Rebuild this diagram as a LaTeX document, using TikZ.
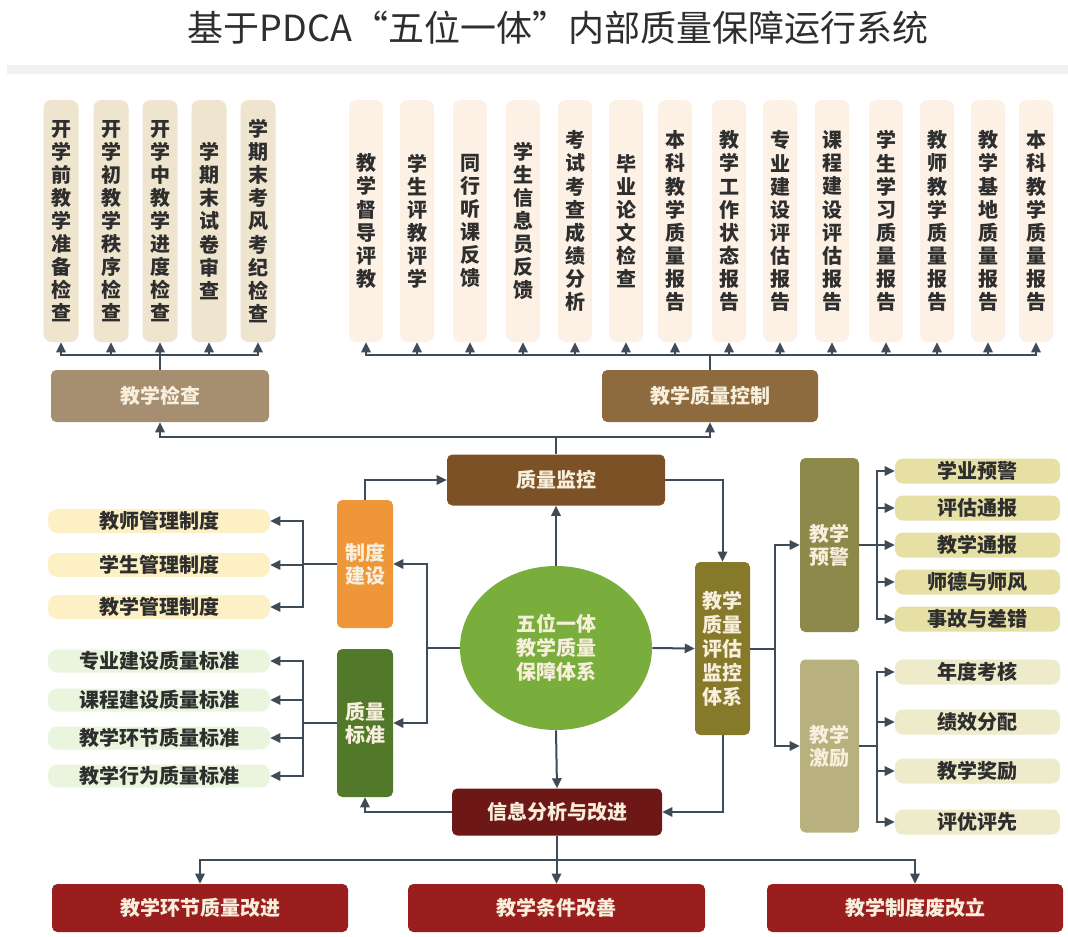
\documentclass[tikz,border=0pt]{standalone}
\usepackage{fontspec}
\setmainfont{Noto Sans CJK SC}
\usetikzlibrary{shapes.geometric,arrows.meta}
\definecolor{lineC}{HTML}{3F4B57}
\definecolor{colBeige}{HTML}{EFE5CF}
\definecolor{colCream}{HTML}{FCF1E4}
\definecolor{chkC}{HTML}{A58F70}
\definecolor{ctrlC}{HTML}{8E6A3F}
\definecolor{monC}{HTML}{7B5125}
\definecolor{zhiC}{HTML}{EF9639}
\definecolor{bzC}{HTML}{52782A}
\definecolor{cirC}{HTML}{7AAE3C}
\definecolor{evalC}{HTML}{86792A}
\definecolor{infoC}{HTML}{6E1717}
\definecolor{redC}{HTML}{9B1E1E}
\definecolor{yjC}{HTML}{8D894A}
\definecolor{jlC}{HTML}{B8B07E}
\definecolor{yjItem}{HTML}{E6E0A4}
\definecolor{jlItem}{HTML}{EEEBCB}
\definecolor{yelItem}{HTML}{FDF0C4}
\definecolor{grnItem}{HTML}{E9F5DC}
\definecolor{boxTxt}{HTML}{F7EEDC}
\definecolor{darkTxt}{HTML}{2E2E2E}
\definecolor{bandC}{HTML}{F1F1F1}
\begin{document}
\begin{tikzpicture}[x=0.75pt,y=-0.75pt,
  sz/.style 2 args={minimum width=#1*0.75pt, minimum height=#2*0.75pt},
  lbl/.style={font=\fontsize{15pt}{17.3pt}\selectfont\bfseries},
  base/.style={inner sep=0pt, align=center, lbl},
  colL/.style={base, rounded corners=6pt, fill=colBeige, text=darkTxt, sz={35}{242}},
  colR/.style={base, rounded corners=6pt, fill=colCream, text=darkTxt, sz={34}{242}},
  wbox/.style={base, rounded corners=4pt, text=boxTxt},
  itemL/.style={base, rounded corners=7pt, text=darkTxt, sz={222}{24}},
  itemR/.style={base, rounded corners=6pt, text=darkTxt, sz={165}{25}},
  conn/.style={draw=lineC, line width=1.5pt},
  arr/.style={conn, -{Triangle[length=7.5pt,width=7pt]}}]
\useasboundingbox (0,0) rectangle (1068,936);
\fill[white] (0,0) rectangle (1068,936);
\fill[bandC] (7,65) rectangle (1068,74);
\node[inner sep=0pt, text=darkTxt, font=\fontsize{27pt}{30pt}\selectfont] (title) at (558,28) {基于PDCA“五位一体”内部质量保障运行系统};

% top-left columns
\node[colL] (t1) at (61,221) {开\\学\\前\\教\\学\\准\\备\\检\\查};
\node[colL] (t2) at (111,221) {开\\学\\初\\教\\学\\秩\\序\\检\\查};
\node[colL] (t3) at (160,221) {开\\学\\中\\教\\学\\进\\度\\检\\查};
\node[colL] (t4) at (209,221) {学\\期\\末\\试\\卷\\审\\查};
\node[colL] (t5) at (258,221) {学\\期\\末\\考\\风\\考\\纪\\检\\查};

% top-right columns
\node[colR] (r1) at (366,221) {教\\学\\督\\导\\评\\教};
\node[colR] (r2) at (417,221) {学\\生\\评\\教\\评\\学};
\node[colR] (r3) at (470,221) {同\\行\\听\\课\\反\\馈};
\node[colR] (r4) at (523,221) {学\\生\\信\\息\\员\\反\\馈};
\node[colR] (r5) at (575,221) {考\\试\\考\\查\\成\\绩\\分\\析};
\node[colR] (r6) at (626,221) {毕\\业\\论\\文\\检\\查};
\node[colR] (r7) at (675,221) {本\\科\\教\\学\\质\\量\\报\\告};
\node[colR] (r8) at (729,221) {教\\学\\工\\作\\状\\态\\报\\告};
\node[colR] (r9) at (780,221) {专\\业\\建\\设\\评\\估\\报\\告};
\node[colR] (r10) at (832,221) {课\\程\\建\\设\\评\\估\\报\\告};
\node[colR] (r11) at (886,221) {学\\生\\学\\习\\质\\量\\报\\告};
\node[colR] (r12) at (937,221) {教\\师\\教\\学\\质\\量\\报\\告};
\node[colR] (r13) at (988,221) {教\\学\\基\\地\\质\\量\\报\\告};
\node[colR] (r14) at (1036,221) {本\\科\\教\\学\\质\\量\\报\\告};

% second row
\node[wbox, fill=chkC, sz={218}{52}] (chk) at (160,396) {教学检查};
\node[wbox, fill=ctrlC, sz={216}{52}] (ctrl) at (710,396) {教学质量控制};
\node[wbox, fill=monC, sz={218}{51}] (mon) at (556,480) {质量监控};

% centre
\node[ellipse, fill=cirC, sz={192}{164}, inner sep=0pt, align=center, text=boxTxt,
      font=\fontsize{15pt}{18pt}\selectfont\bfseries] (cir) at (556,648) {五位一体\\教学质量\\保障体系};
\node[wbox, fill=evalC, sz={55}{173}, font=\fontsize{15pt}{18pt}\selectfont\bfseries] (eval) at (722.5,648.5) {教学\\质量\\评估\\监控\\体系};
\node[wbox, fill=infoC, sz={210}{47}] (info) at (557,812) {信息分析与改进};

% left
\node[wbox, fill=zhiC, sz={56}{128}] (zhi) at (365,564) {制度\\建设};
\node[wbox, fill=bzC, sz={56}{148}] (bz) at (365,723) {质量\\标准};
\node[itemL, fill=yelItem] (z1) at (159,521) {教师管理制度};
\node[itemL, fill=yelItem] (z2) at (159,565) {学生管理制度};
\node[itemL, fill=yelItem] (z3) at (159,607) {教学管理制度};
\node[itemL, fill=grnItem, sz={222}{23}] (b1s) at (159,661) {专业建设质量标准};
\node[itemL, fill=grnItem, sz={222}{23}] (b2s) at (159,700) {课程建设质量标准};
\node[itemL, fill=grnItem, sz={222}{23}] (b3s) at (159,738) {教学环节质量标准};
\node[itemL, fill=grnItem, sz={222}{23}] (b4s) at (159,776) {教学行为质量标准};

% right
\node[wbox, fill=yjC, sz={59}{174}] (yj) at (829.5,545) {教学\\预警};
\node[wbox, fill=jlC, sz={59}{173}] (jl) at (829.5,746) {教学\\激励};
\node[itemR, fill=yjItem] (y1) at (977.5,471) {学业预警};
\node[itemR, fill=yjItem] (y2) at (977.5,508) {评估通报};
\node[itemR, fill=yjItem] (y3) at (977.5,545) {教学通报};
\node[itemR, fill=yjItem] (y4) at (977.5,582) {师德与师风};
\node[itemR, fill=yjItem] (y5) at (977.5,619) {事故与差错};
\node[itemR, fill=jlItem] (j1) at (977.5,672) {年度考核};
\node[itemR, fill=jlItem] (j2) at (977.5,722) {绩效分配};
\node[itemR, fill=jlItem] (j3) at (977.5,771) {教学奖励};
\node[itemR, fill=jlItem] (j4) at (977.5,822) {评优评先};

% bottom
\node[wbox, fill=redC, sz={296}{48}] (bb1) at (200,908) {教学环节质量改进};
\node[wbox, fill=redC, sz={297}{48}] (bb2) at (556.5,908) {教学条件改善};
\node[wbox, fill=redC, sz={296}{48}] (bb3) at (915,908) {教学制度废改立};

% bus coordinates
\coordinate (busL) at (0,355);
\coordinate (busM) at (0,437);
\coordinate (busB) at (0,860);

% connectors: top
\foreach \c in {t1,t2,t3,t4,t5}
  \draw[arr] (chk.north) -- (chk.north |- busL) -| (\c.south);
\foreach \c in {r1,r2,r3,r4,r5,r6,r7,r8,r9,r10,r11,r12,r13,r14}
  \draw[arr] (ctrl.north) -- (ctrl.north |- busL) -| (\c.south);
\draw[arr] (mon.north) -- (mon.north |- busM) -| (chk.south);
\draw[arr] (mon.north) -- (mon.north |- busM) -| (ctrl.south);

% centre
\draw[arr] (cir.north) -- (mon.south);
\draw[arr] (cir.south) -- (info.north);
\draw[arr] (cir.east) -- (eval.west);
\draw[arr] (cir.west) -- ++(-33,0) |- (zhi.east);
\draw[arr] (cir.west) -- ++(-33,0) |- (bz.east);
\draw[arr] (zhi.north) |- (mon.west);
\draw[arr] (mon.east) -| (eval.north);
\draw[arr] (eval.south) |- (info.east);
\draw[arr] (info.west) -| (bz.south);

% left brackets
\foreach \c in {z1,z2,z3}
  \draw[arr] (zhi.west) -- ++(-34,0) |- (\c.east);
\foreach \c in {b1s,b2s,b3s,b4s}
  \draw[arr] (bz.west) -- ++(-34,0) |- (\c.east);

% right
\draw[arr] (eval.east) -- ++(25,0) |- (yj.west);
\draw[arr] (eval.east) -- ++(25,0) |- (jl.west);
\foreach \c in {y1,y2,y3,y4,y5}
  \draw[arr] (yj.east) -- ++(18,0) |- (\c.west);
\foreach \c in {j1,j2,j3,j4}
  \draw[arr] (jl.east) -- ++(18,0) |- (\c.west);

% bottom
\foreach \c in {bb1,bb2,bb3}
  \draw[arr] (info.south) -- (info.south |- busB) -| (\c.north);
\end{tikzpicture}
\end{document}
